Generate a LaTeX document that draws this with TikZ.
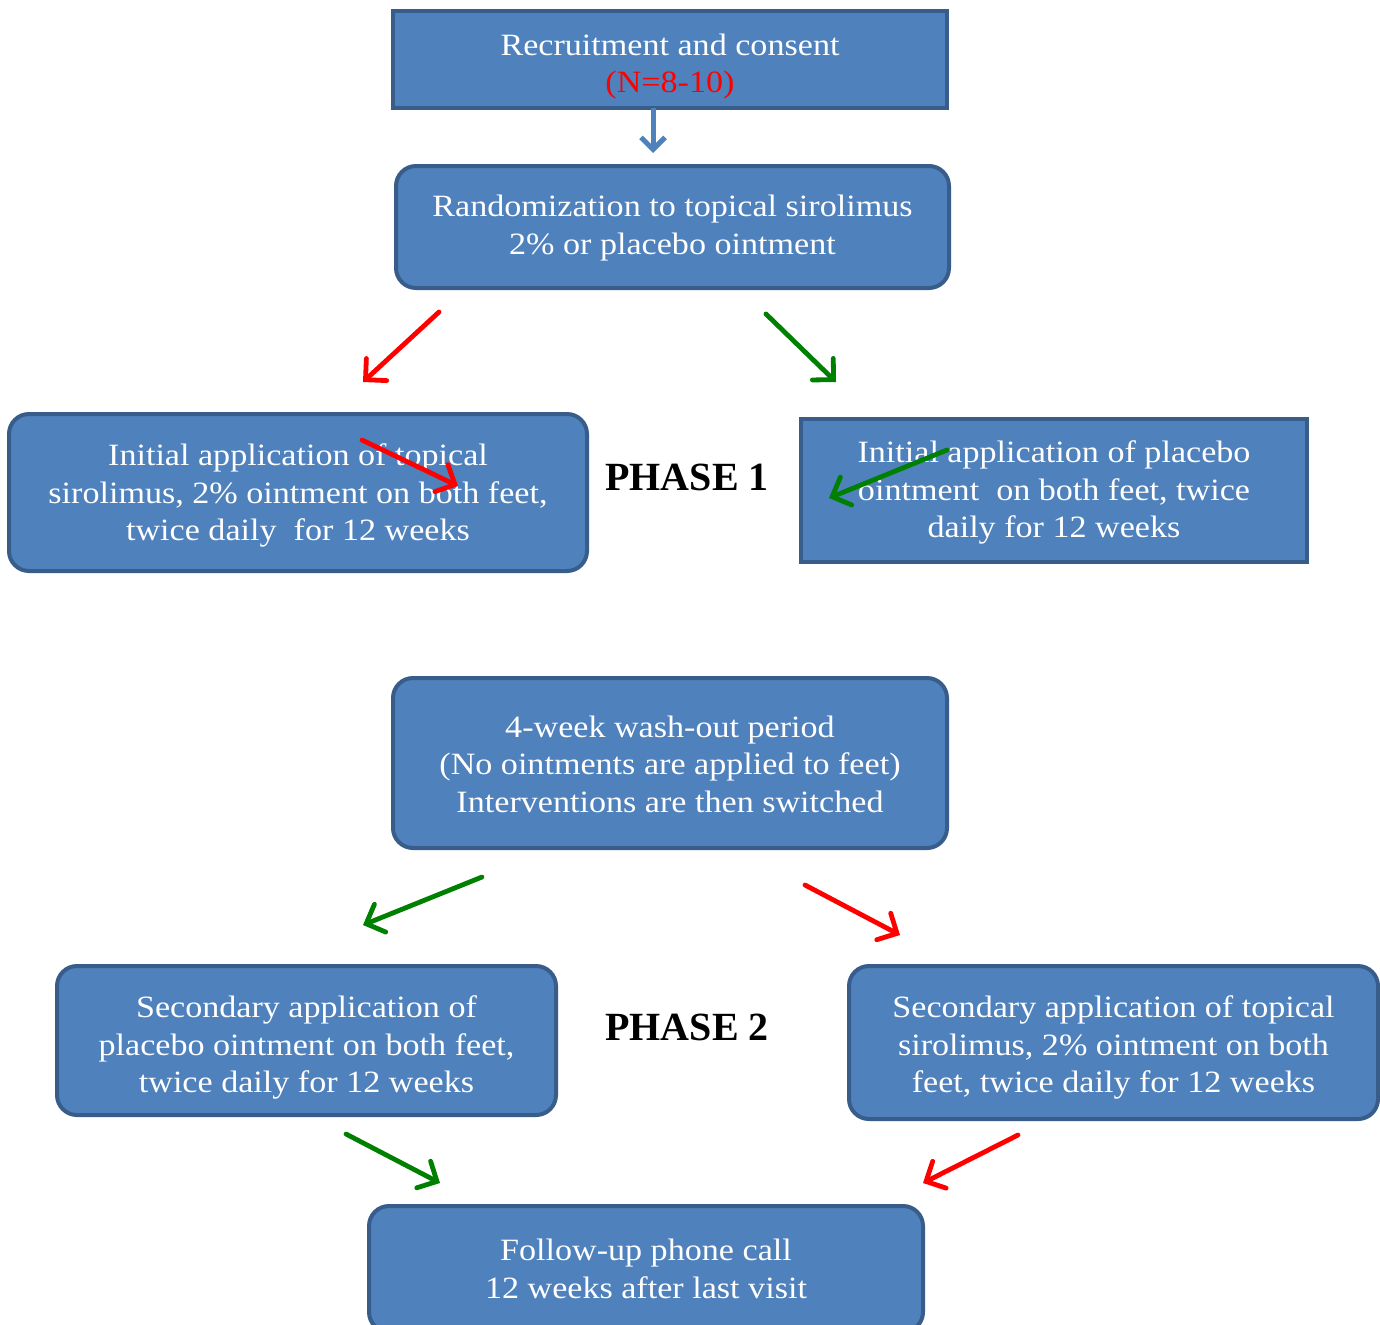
\documentclass[tikz,border=0pt]{standalone}
\usepackage{fontspec}
\setmainfont{Liberation Serif}[FakeStretch=1.1]
\newfontfamily\phasefont{Liberation Serif}
\usetikzlibrary{arrows.meta}
\definecolor{boxfill}{HTML}{4F81BD}
\definecolor{boxline}{HTML}{385D8A}
\definecolor{arrred}{HTML}{FF0000}
\definecolor{arrgreen}{HTML}{008000}
\tikzset{
  stagebox/.style={draw=boxline, fill=boxfill, line width=2pt, inner sep=0pt},
  roundbox/.style={stagebox, rounded corners=10pt},
  squarebox/.style={stagebox},
  boxtext/.style={text=white, align=center, inner sep=0pt,
    font=\fontsize{15.5}{18.75}\selectfont},
  flowarrow/.style={line width=2.4pt, line cap=round, -{Straight Barb[length=7.5pt,width=15pt,line cap=round]}},
  redarrow/.style={flowarrow, draw=arrred},
  greenarrow/.style={flowarrow, draw=arrgreen},
  phaselabel/.style={font=\phasefont\fontsize{20}{24}\selectfont\bfseries, text=black}
}
\begin{document}
\begin{tikzpicture}[x=0.5pt,y=-0.5pt]
\useasboundingbox[fill=white] (0,0) rectangle (1380,1324);

\node[squarebox, minimum width=277pt, minimum height=48.5pt] (recruit) at (670,59.5) {};
\node[boxtext] (recruit-t) at ([yshift=-3.5pt]recruit.center)
  {Recruitment and consent\\\textcolor{arrred}{(N=8-10)}};

\node[roundbox, minimum width=276.5pt, minimum height=61pt] (random) at (672.5,227) {};
\node[boxtext] (random-t) at ([yshift=-0.5pt]random.center)
  {Randomization to topical sirolimus\\2\% or placebo ointment};

\node[roundbox, minimum width=289pt, minimum height=78.5pt] (initsiro) at (298,492.5) {};
\node[boxtext] (initsiro-t) at ([yshift=-1.5pt]initsiro.center)
  {Initial application of topical\\sirolimus, 2\% ointment on both feet,\\twice daily\ \ for 12 weeks};

\node[squarebox, minimum width=253pt, minimum height=71.5pt] (initplac) at (1054,490.5) {};
\node[boxtext] (initplac-t) at ([yshift=-1pt]initplac.center)
  {Initial application of placebo\\ointment\ \ on both feet, twice\\daily for 12 weeks};

\node[phaselabel] (phase1) at (687,477) {PHASE 1};

\node[roundbox, minimum width=277pt, minimum height=85pt] (washout) at (670,763) {};
\node[boxtext] (washout-t) at ([yshift=-0.5pt]washout.center)
  {4-week wash-out period\\(No ointments are applied to feet)\\Interventions are then switched};

\node[roundbox, minimum width=249.5pt, minimum height=74.5pt] (secplac) at (306.5,1040.5) {};
\node[boxtext] (secplac-t) at ([yshift=-3.5pt]secplac.center)
  {Secondary application of\\placebo ointment on both feet,\\twice daily for 12 weeks};

\node[phaselabel] (phase2) at (687,1027) {PHASE 2};

\node[roundbox, minimum width=264.5pt, minimum height=76.5pt] (secsiro) at (1113.5,1042.5) {};
\node[boxtext] (secsiro-t) at ([yshift=-2.5pt]secsiro.center)
  {Secondary application of topical\\sirolimus, 2\% ointment on both\\feet, twice daily for 12 weeks};

\node[roundbox, minimum width=277pt, minimum height=63pt] (followup) at (646,1269) {};
\node[boxtext] (followup-t) at (followup.center)
  {Follow-up phone call\\12 weeks after last visit};

% coordinates for free-floating arrows
\coordinate (a1s) at (653,108); \coordinate (a1e) at (653,153);
\coordinate (r1s) at (439,312); \coordinate (r1e) at (363,382);
\coordinate (g1s) at (766,314); \coordinate (g1e) at (836,382);
\coordinate (r2s) at (362,440); \coordinate (r2e) at (458,486);
\coordinate (g2s) at (947,450); \coordinate (g2e) at (829,498);
\coordinate (g3s) at (482,877); \coordinate (g3e) at (363,925);
\coordinate (r3s) at (805,885); \coordinate (r3e) at (900,935);
\coordinate (g4s) at (346,1134); \coordinate (g4e) at (440,1183);
\coordinate (r4s) at (1018,1135); \coordinate (r4e) at (923,1183);

\draw[line width=2.5pt, draw=boxfill, -{Straight Barb[length=6pt,width=12pt]}] (a1s) -- (a1e);
\draw[redarrow] (r1s) -- (r1e);
\draw[greenarrow] (g1s) -- (g1e);
\draw[redarrow] (r2s) -- (r2e);
\draw[greenarrow] (g2s) -- (g2e);
\draw[greenarrow] (g3s) -- (g3e);
\draw[redarrow] (r3s) -- (r3e);
\draw[greenarrow] (g4s) -- (g4e);
\draw[redarrow] (r4s) -- (r4e);
\end{tikzpicture}
\end{document}
